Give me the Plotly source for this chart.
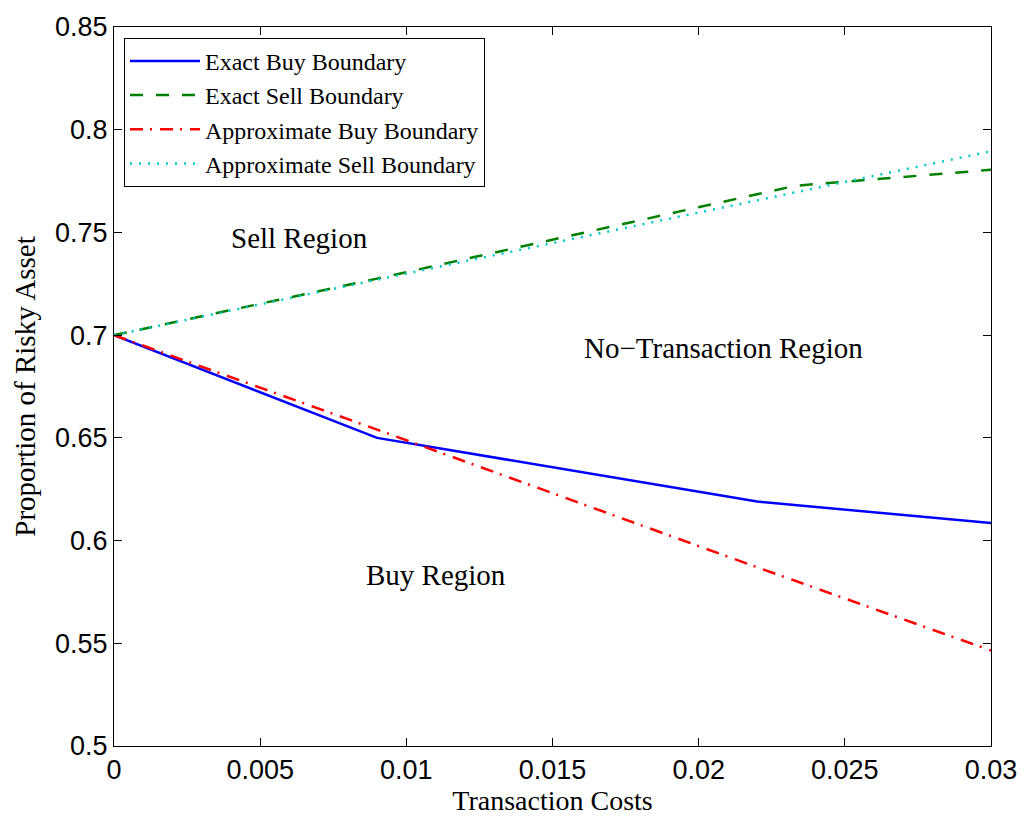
import plotly.graph_objects as go

# Data
cost_grid = [0.0, 0.009, 0.022, 0.03]
exact_buy = [0.700, 0.650, 0.619, 0.6085]
exact_sell_x = [0.0, 0.009, 0.0233, 0.03]
exact_sell = [0.700, 0.7275, 0.7727, 0.7805]
approx_buy = [0.700, 0.654, 0.587, 0.5465]
approx_sell = [0.700, 0.727, 0.7656, 0.7895]

x_ticks = [0, 0.005, 0.01, 0.015, 0.02, 0.025, 0.03]
x_tick_labels = ["0", "0.005", "0.01", "0.015", "0.02", "0.025", "0.03"]
y_ticks = [0.5, 0.55, 0.6, 0.65, 0.7, 0.75, 0.8, 0.85]
y_tick_labels = ["0.5", "0.55", "0.6", "0.65", "0.7", "0.75", "0.8", "0.85"]

region_labels = ["Sell Region", "No\u2212Transaction Region", "Buy Region"]
region_x = [0.00635, 0.02085, 0.0110]
region_y = [0.7472, 0.6939, 0.5834]

SERIF = "Liberation Serif, Times New Roman, serif"
SANS = "Liberation Sans, Arial, sans-serif"

fig = go.Figure()
fig.add_trace(go.Scatter(x=cost_grid, y=exact_buy, mode="lines",
                         name="Exact Buy Boundary",
                         line=dict(color="#0000FF", width=2.5)))
fig.add_trace(go.Scatter(x=exact_sell_x, y=exact_sell, mode="lines",
                         name="Exact Sell Boundary",
                         line=dict(color="#008000", width=2.5, dash="13px,13px")))
fig.add_trace(go.Scatter(x=cost_grid, y=approx_buy, mode="lines",
                         name="Approximate Buy Boundary",
                         line=dict(color="#FF0000", width=2.5, dash="13px,7px,2px,8px")))
fig.add_trace(go.Scatter(x=cost_grid, y=approx_sell, mode="lines",
                         name="Approximate Sell Boundary",
                         line=dict(color="#00C8C8", width=2.5, dash="2px,7px")))

for t, xv, yv in zip(region_labels, region_x, region_y):
    fig.add_annotation(x=xv, y=yv, text=t, showarrow=False,
                       font=dict(family=SERIF, size=29, color="black"),
                       xanchor="center", yanchor="middle")

fig.update_layout(
    width=1029, height=818,
    margin=dict(l=114, r=36, t=26, b=70),
    paper_bgcolor="white", plot_bgcolor="white",
    showlegend=True,
    legend=dict(x=0.0114, y=0.985, xanchor="left", yanchor="top",
                bgcolor="white", bordercolor="black", borderwidth=1,
                font=dict(family=SERIF, size=24, color="black"),
                itemwidth=70, tracegroupgap=0),
    xaxis=dict(range=[0, 0.03], tickvals=x_ticks, ticktext=x_tick_labels,
               showgrid=False, zeroline=False,
               showline=True, linecolor="black", linewidth=1, mirror="ticks",
               ticks="inside", ticklen=8, tickcolor="black", tickwidth=1,
               tickfont=dict(family=SANS, size=27, color="black"),
               title=dict(text="Transaction Costs",
                          font=dict(family=SERIF, size=28, color="black"),
                          standoff=1)),
    yaxis=dict(range=[0.5, 0.85], tickvals=y_ticks, ticktext=y_tick_labels,
               showgrid=False, zeroline=False,
               showline=True, linecolor="black", linewidth=1, mirror="ticks",
               ticks="inside", ticklen=8, tickcolor="black", tickwidth=1,
               tickfont=dict(family=SANS, size=27, color="black"),
               title=dict(text="Proportion of Risky Asset",
                          font=dict(family=SERIF, size=29, color="black"),
                          standoff=10)),
)

fig.write_html("out.html")
